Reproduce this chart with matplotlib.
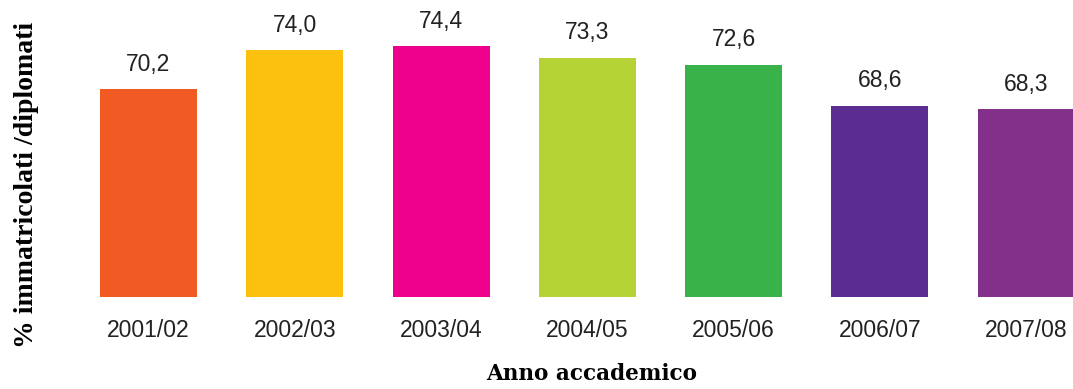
import matplotlib
matplotlib.use('Agg')
import matplotlib.pyplot as plt

anni = ['2001/02', '2002/03', '2003/04', '2004/05', '2005/06', '2006/07', '2007/08']
valori = [70.2, 74.0, 74.4, 73.3, 72.6, 68.6, 68.3]
colori = ['#F15A22', '#FCC10F', '#EC008C', '#B5D334', '#38B34A', '#5C2D90', '#83308A']

base = 50

fig = plt.figure(figsize=(10.73, 3.89), dpi=100)
ax = fig.add_axes([0, 0.2365, 1, 0.7635])

x = range(len(anni))
alt = [v - base for v in valori]
bars = ax.bar(x, alt, bottom=base, width=0.663, color=colori)

for xi, v in zip(x, valori):
    ax.text(xi, v + 1.3, f'{v:.1f}'.replace('.', ','), ha='center', va='bottom',
            fontsize=16.5, family='Liberation Sans', color='#222222')

ax.set_xlim(-1.015, 6.32)
ax.set_ylim(base, 78.9)
ax.set_xticks(list(x))
ax.set_xticklabels(anni, fontsize=16.5, family='Liberation Sans', color='#222222')
ax.tick_params(axis='x', length=0, pad=16)
ax.set_yticks([])
for s in ax.spines.values():
    s.set_visible(False)

ax.set_xlabel('Anno accademico', fontsize=15.5, family='DejaVu Serif', fontweight='bold')
ax.xaxis.set_label_coords(0.551, -0.222)
ax.set_ylabel('% immatricolati /diplomati', fontsize=20, family='Liberation Serif', fontweight='bold')
ax.yaxis.set_label_coords(0.036, 0.377)

plt.savefig('out.png', dpi=100)
